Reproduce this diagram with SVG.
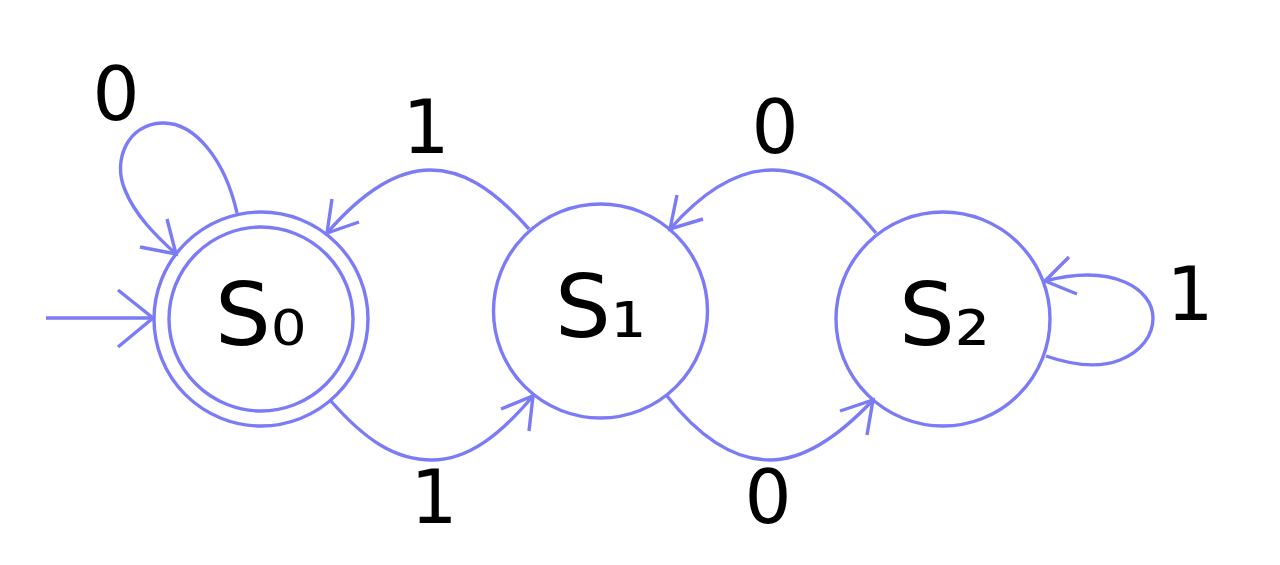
<svg xmlns="http://www.w3.org/2000/svg" width="1280" height="565" viewBox="0 0 1280 565">
<style>
.st{fill:#fff;stroke:#7b7bf5;stroke-width:3.4}
.ln{fill:none;stroke:#7b7bf5;stroke-width:3.4;stroke-linejoin:miter}
.nm{font-family:"DejaVu Sans",sans-serif;font-size:88px;fill:#000}
.lb{font-family:"DejaVu Sans",sans-serif;font-size:74px;fill:#000;text-anchor:middle}
</style>
<rect width="1280" height="565" fill="#fff"/>
<g id="S0">
<circle class="st" cx="261" cy="319" r="107"/>
<circle class="st" cx="261" cy="319" r="92"/>
<text class="nm" x="215" y="345">S₀</text>
</g>
<g id="S1">
<circle class="st" cx="600.5" cy="311" r="107"/>
<text class="nm" x="555" y="337">S₁</text>
</g>
<g id="S2">
<circle class="st" cx="943" cy="319" r="107"/>
<text class="nm" x="899" y="345">S₂</text>
</g>
<g id="connectors">
<path class="ln" d="M46,318 L153,318"/>
<path class="ln" d="M118,290 L153,318 L118,347"/>
<path class="ln" d="M237,213 C225,160 195,122 162,123 C128,124 112,160 125,190 C135,215 155,235 176,254"/>
<path class="ln" d="M167,219 L176,254 L140,247"/>
<path class="ln" d="M529,229 C490,185 460,170 430,170 C395,170 360,195 327,233"/>
<path class="ln" d="M332,199 L327,233 L359,222"/>
<path class="ln" d="M330,400 C365,440 395,460 432,460 C468,460 500,435 533,396"/>
<path class="ln" d="M501,409 L533,396 L529,431"/>
<path class="ln" d="M667,396 C700,438 735,460 770,460 C805,460 840,435 873,400"/>
<path class="ln" d="M840,411 L873,400 L867,435"/>
<path class="ln" d="M876,233 C840,190 808,170 772,170 C735,170 700,195 670,229"/>
<path class="ln" d="M677,195 L670,229 L703,219"/>
<path class="ln" d="M1046,356 C1075,366 1100,368 1120,360 C1142,351 1153,335 1153,318 C1153,290 1115,263 1045,281"/>
<path class="ln" d="M1069,257 L1045,281 L1077,294"/>
</g>
<g id="labels">
<text class="lb" x="116" y="120">0</text>
<text class="lb" x="426" y="153">1</text>
<text class="lb" x="775" y="153">0</text>
<text class="lb" x="434" y="523">1</text>
<text class="lb" x="768" y="523">0</text>
<text class="lb" x="1190" y="320">1</text>
</g>
</svg>
